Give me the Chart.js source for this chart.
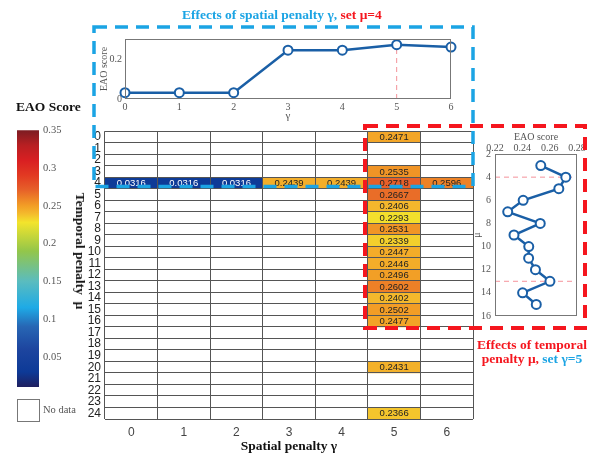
<!DOCTYPE html>
<html>
<head>
<meta charset="utf-8">
<script src="https://cdn.jsdelivr.net/npm/chart.js@4.4.0/dist/chart.umd.min.js"></script>
<style>
body { margin: 0; background: #fff; }
#wrap { position: relative; width: 598px; height: 455px; overflow: hidden; background: #fff;
        font-family: "Liberation Serif", "Times New Roman", serif; }
canvas { position: absolute; }
.t { position: absolute; font-weight: bold; font-size: 13.5px; white-space: nowrap; line-height: 14px; }
.blue { color: #1ba4e4; }
.red { color: #f5161e; }
svg { position: absolute; left: 0; top: 0; }
</style>
</head>
<body>
<div id="wrap">
  <canvas id="cb" width="80" height="280" style="left:0;top:120px"></canvas>
  <canvas id="heat" width="418" height="335" style="left:60px;top:120px"></canvas>
  <canvas id="topInset" width="370" height="95" style="left:96px;top:30px"></canvas>
  <canvas id="rightInset" width="130" height="200" style="left:466px;top:126px"></canvas>

  <div class="t" style="left:16px;top:100px;color:#111">EAO Score</div>
  <div class="t" style="left:80px;top:251px;color:#111;transform:translate(-50%,-50%) rotate(90deg)">Temporal penalty&nbsp;&nbsp;μ</div>
  <div style="position:absolute;left:17px;top:399px;width:21px;height:21px;border:1px solid #777"></div>
  <div style="position:absolute;left:43px;top:404px;font-size:10.5px;color:#555">No data</div>

  <div class="t" style="left:182px;top:8px"><span class="blue">Effects of spatial penalty γ,</span> <span class="red">set μ=4</span></div>
  <div class="t" style="left:472px;top:338px;width:120px;text-align:center"><span class="red">Effects of temporal<br>penalty μ,</span> <span class="blue">set γ=5</span></div>

  <svg width="598" height="455">
    <rect x="365" y="126" width="220" height="202" fill="none" stroke="#f5161e" stroke-width="4" stroke-dasharray="13 8"/>
    <rect x="94" y="27" width="379" height="159.5" fill="none" stroke="#1ba4e4" stroke-width="3.5" stroke-dasharray="13 8"/>
  </svg>
</div>
<script>
// heatmap axes
const gammaLabels = ['0', '1', '2', '3', '4', '5', '6'];
const muLabels = ['0', '1', '2', '3', '4', '5', '6', '7', '8', '9', '10', '11', '12',
                  '13', '14', '15', '16', '17', '18', '19', '20', '21', '22', '23', '24'];

// row mu=4 over gamma 0..6
const rowMu4Gamma = [0, 1, 2, 3, 4, 5, 6];
const rowMu4Eao = [0.0316, 0.0316, 0.0316, 0.2439, 0.2439, 0.2718, 0.2596];

// column gamma=5 over mu
const colG5Mu = [0, 3, 4, 5, 6, 7, 8, 9, 10, 11, 12, 13, 14, 15, 16, 20, 24];
const colG5Eao = [0.2471, 0.2535, 0.2718, 0.2667, 0.2406, 0.2293, 0.2531, 0.2339, 0.2447,
                  0.2446, 0.2496, 0.2602, 0.2402, 0.2502, 0.2477, 0.2431, 0.2366];

// right inset (mu 3..15 at gamma=5)
const rightMu = [3, 4, 5, 6, 7, 8, 9, 10, 11, 12, 13, 14, 15];
const rightEao = [0.2535, 0.2718, 0.2667, 0.2406, 0.2293, 0.2531, 0.2339, 0.2447, 0.2446,
                  0.2496, 0.2602, 0.2402, 0.2502];
const rightRefMu = [4, 13];
const rightXTicks = [0.22, 0.24, 0.26, 0.28];
const rightYTicks = [2, 4, 6, 8, 10, 12, 14, 16];

// top inset
const topRefGamma = 5;
const topYTicks = [0, 0.2];

// colorbar
const cbMin = 0.01, cbMax = 0.35;
const cbTicks = [0.05, 0.1, 0.15, 0.2, 0.25, 0.3, 0.35];

// colour map
const cmapVals = [0.01, 0.03, 0.06, 0.09, 0.115, 0.15, 0.19, 0.228, 0.24, 0.25, 0.26, 0.272, 0.29, 0.31, 0.33, 0.35];
const cmapColors = ['#1f1f5f', '#0d3a97', '#1d459f', '#2766b4', '#1eaae6', '#5abcbf', '#93c64a', '#f3e42c',
                    '#f4b92c', '#f29e26', '#ed8127', '#e65e29', '#e23a22', '#d91f22', '#b81f22', '#7c1c22'];

function hexRgb(h) { return [1, 3, 5].map(i => parseInt(h.substr(i, 2), 16)); }
function cmap(v) {
    for (let i = 1; i < cmapVals.length; i++) {
        if (v <= cmapVals[i]) {
            const t = Math.max(0, (v - cmapVals[i - 1]) / (cmapVals[i] - cmapVals[i - 1]));
            const a = hexRgb(cmapColors[i - 1]), b = hexRgb(cmapColors[i]);
            return 'rgb(' + a.map((c, k) => Math.round(c + (b[k] - c) * t)).join(',') + ')';
        }
    }
    return cmapColors[cmapColors.length - 1];
}

const serif = '"Liberation Serif", "Times New Roman", serif';
const sans = '"Liberation Sans", Arial, sans-serif';
const lineBlue = '#1a5fa6';
const refPink = 'rgba(240,110,120,0.75)';
const noTicks = { display: false, drawTicks: false, tickLength: 0 };

// build cells (no duplicates)
const cellMap = {};
rowMu4Gamma.forEach((g, i) => { cellMap[g + '_4'] = { g: g, m: 4, v: rowMu4Eao[i] }; });
colG5Mu.forEach((m, i) => { cellMap['5_' + m] = { g: 5, m: m, v: colG5Eao[i] }; });
const cells = Object.values(cellMap);

const boxPlugin = {
    id: 'box',
    afterDraw(chart) {
        const a = chart.chartArea, c = chart.ctx;
        c.save();
        c.strokeStyle = '#777';
        c.lineWidth = 1;
        c.strokeRect(Math.round(a.left) + 0.5, Math.round(a.top) + 0.5,
                     Math.round(a.right - a.left) - 1, Math.round(a.bottom - a.top) - 1);
        c.restore();
    }
};

// ---- colorbar ----
new Chart(document.getElementById('cb'), {
    type: 'bar',
    data: {
        labels: [''],
        datasets: [{
            data: [[cbMin, cbMax]],
            barPercentage: 1,
            categoryPercentage: 1,
            backgroundColor: function (context) {
                const chart = context.chart;
                if (!chart.chartArea) return null;
                const y = chart.scales.y;
                const g = chart.ctx.createLinearGradient(0, y.getPixelForValue(cbMin), 0, y.getPixelForValue(cbMax));
                cmapVals.forEach((v, i) => {
                    g.addColorStop(Math.min(1, Math.max(0, (v - cbMin) / (cbMax - cbMin))), cmapColors[i]);
                });
                return g;
            },
        }],
    },
    options: {
        responsive: false,
        animation: false,
        layout: { padding: { left: 17, top: 10, bottom: 13, right: 0 } },
        plugins: { legend: { display: false }, tooltip: { enabled: false } },
        scales: {
            x: { display: false },
            y: {
                position: 'right',
                min: cbMin,
                max: cbMax,
                grid: noTicks,
                border: { display: false },
                afterBuildTicks: s => { s.ticks = cbTicks.map(v => ({ value: v })); },
                afterFit: s => { s.width = 41; },
                ticks: { padding: 4, color: '#555', font: { family: serif, size: 10.5 }, callback: v => String(v) },
            },
        },
    },
});

// ---- heatmap ----
const cellLabels = {
    id: 'cellLabels',
    afterDatasetsDraw(chart) {
        const c = chart.ctx;
        const meta = chart.getDatasetMeta(0);
        c.save();
        c.font = '9.5px ' + sans;
        c.textAlign = 'center';
        c.textBaseline = 'middle';
        meta.data.forEach((el, i) => {
            const v = cells[i].v;
            c.fillStyle = v < 0.12 ? '#fff' : '#222';
            c.fillText(v.toFixed(4), el.x, (el.y + el.base) / 2 + 0.5);
        });
        c.restore();
    }
};

new Chart(document.getElementById('heat'), {
    type: 'bar',
    data: {
        labels: gammaLabels,
        datasets: [{
            data: cells.map(c => ({ x: String(c.g), y: [c.m - 0.5, c.m + 0.5] })),
            backgroundColor: cells.map(c => cmap(c.v)),
            borderWidth: 0,
            barPercentage: 1,
            categoryPercentage: 1,
            yAxisID: 'y',
            xAxisID: 'x',
        }],
    },
    options: {
        responsive: false,
        animation: false,
        layout: { padding: { top: 8, right: 5, left: 0, bottom: 0 } },
        plugins: { legend: { display: false }, tooltip: { enabled: false } },
        scales: {
            x: {
                type: 'category',
                offset: true,
                grid: { offset: true, color: '#555', drawTicks: false, tickLength: 0, z: 1 },
                border: { display: false },
                ticks: { padding: 6, color: '#444', font: { family: sans, size: 12 } },
                title: { display: true, text: 'Spatial penalty γ', color: '#111',
                         font: { family: serif, size: 13.5, weight: 'bold' }, padding: { top: 0, bottom: 0 } },
                afterFit: s => { s.height = 36; },
            },
            y: { type: 'linear', reverse: true, min: -0.5, max: 24.5, display: false },
            yc: {
                type: 'category',
                labels: muLabels,
                position: 'left',
                offset: true,
                grid: { offset: true, color: '#555', drawTicks: false, tickLength: 0, z: 1 },
                border: { display: false },
                ticks: { autoSkip: false, padding: 4, color: '#222', font: { family: sans, size: 12 } },
                afterFit: s => { s.width = 45; },
            },
        },
    },
    plugins: [cellLabels],
});

// ---- top inset ----
new Chart(document.getElementById('topInset'), {
    type: 'scatter',
    data: {
        datasets: [
            {
                data: rowMu4Gamma.map((g, i) => ({ x: g, y: rowMu4Eao[i] })),
                showLine: true,
                borderColor: lineBlue,
                borderWidth: 2.5,
                pointRadius: 4.5,
                pointBorderWidth: 2,
                pointBorderColor: lineBlue,
                pointBackgroundColor: '#fff',
            },
            {
                data: [{ x: topRefGamma, y: 0 }, { x: topRefGamma, y: 0.3 }],
                showLine: true,
                borderColor: refPink,
                borderWidth: 1,
                borderDash: [5, 4],
                pointRadius: 0,
            },
        ],
    },
    options: {
        responsive: false,
        animation: false,
        clip: false,
        layout: { padding: { top: 8, right: 15, left: 0, bottom: 0 } },
        plugins: { legend: { display: false }, tooltip: { enabled: false } },
        scales: {
            x: {
                min: 0, max: 6,
                grid: noTicks,
                border: { display: false },
                afterBuildTicks: s => { s.ticks = rowMu4Gamma.map(v => ({ value: v })); },
                ticks: { padding: 2, color: '#555', font: { family: serif, size: 10 } },
                title: { display: true, text: 'γ', color: '#555', font: { family: serif, size: 11 }, padding: { top: 0, bottom: 2 } },
                afterFit: s => { s.height = 26; },
            },
            y: {
                min: 0, max: 0.3,
                grid: noTicks,
                border: { display: false },
                afterBuildTicks: s => { s.ticks = topYTicks.map(v => ({ value: v })); },
                ticks: { padding: 3, color: '#555', font: { family: serif, size: 10 }, callback: v => String(v) },
                title: { display: true, text: 'EAO score', color: '#555', font: { family: serif, size: 10 }, padding: { top: 2, bottom: 0 } },
                afterFit: s => { s.width = 29; },
            },
        },
    },
    plugins: [boxPlugin],
});

// ---- right inset ----
new Chart(document.getElementById('rightInset'), {
    type: 'scatter',
    data: {
        datasets: [
            {
                data: rightMu.map((m, i) => ({ x: rightEao[i], y: m })),
                showLine: true,
                borderColor: lineBlue,
                borderWidth: 2.5,
                pointRadius: 4.5,
                pointBorderWidth: 2,
                pointBorderColor: lineBlue,
                pointBackgroundColor: '#fff',
            },
        ].concat(rightRefMu.map(m => ({
            data: [{ x: rightXTicks[0], y: m }, { x: rightXTicks[rightXTicks.length - 1], y: m }],
            showLine: true,
            borderColor: refPink,
            borderWidth: 1,
            borderDash: [5, 4],
            pointRadius: 0,
        }))),
    },
    options: {
        responsive: false,
        animation: false,
        clip: false,
        layout: { padding: { top: 0, right: 19, left: 0, bottom: 4 } },
        plugins: { legend: { display: false }, tooltip: { enabled: false } },
        scales: {
            x: {
                position: 'top',
                min: 0.22, max: 0.28,
                grid: noTicks,
                border: { display: false },
                afterBuildTicks: s => { s.ticks = rightXTicks.map(v => ({ value: v })); },
                ticks: { padding: 0, color: '#555', font: { family: serif, size: 10 }, callback: v => v.toFixed(2) },
                title: { display: true, text: 'EAO score', color: '#555', font: { family: serif, size: 10 }, padding: { top: 5, bottom: 0 } },
                afterFit: s => { s.height = 28; },
            },
            y: {
                reverse: true,
                min: 2, max: 16,
                grid: noTicks,
                border: { display: false },
                afterBuildTicks: s => { s.ticks = rightYTicks.map(v => ({ value: v })); },
                ticks: { padding: 4, color: '#555', font: { family: serif, size: 10 } },
                title: { display: true, text: 'μ', color: '#555', font: { family: serif, size: 10 }, padding: { top: 5, bottom: 0 } },
                afterFit: s => { s.width = 29; },
            },
        },
    },
    plugins: [boxPlugin],
});
</script>
</body>
</html>
